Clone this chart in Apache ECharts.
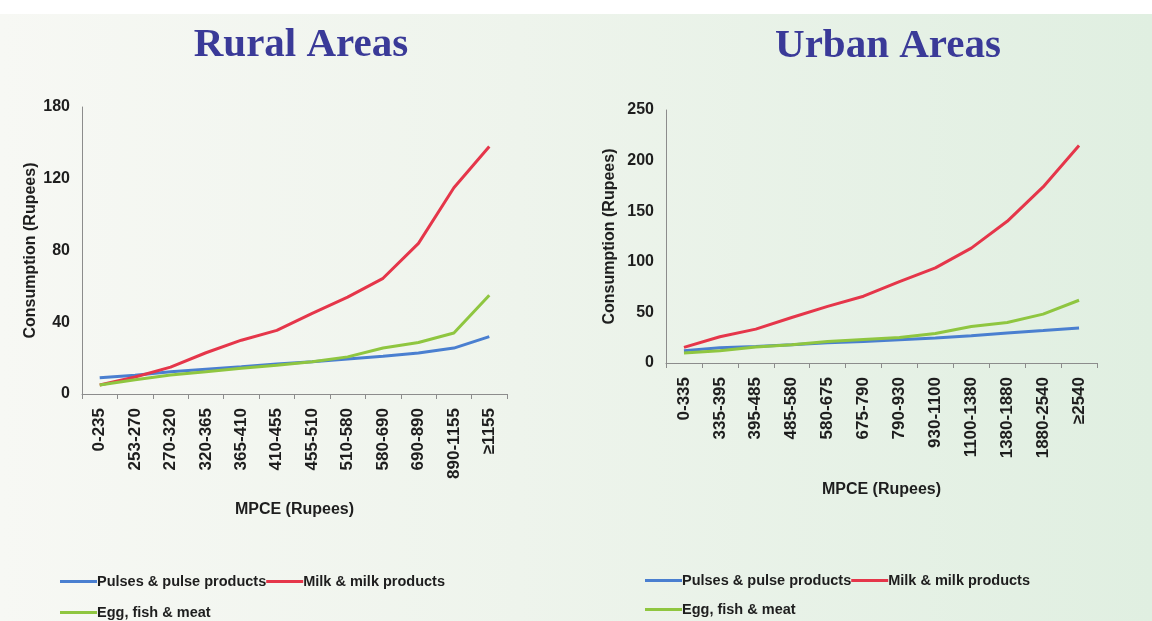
<!DOCTYPE html>
<html>
<head>
<meta charset="utf-8">
<script src="https://cdn.jsdelivr.net/npm/echarts@6/dist/echarts.min.js"></script>
<style>
  html, body { margin: 0; padding: 0; }
  .main-style {
    width: 1152px;
    height: 621px;
    position: relative;
    background: linear-gradient(to right, #f7f8f4 0%, #eef4ec 45%, #e0efe1 100%);
  }
  .top-strip {
    position: absolute; left: 0; top: 0; width: 100%; height: 14px; background: #ffffff;
  }
  #chart { position: absolute; left: 0; top: 0; width: 1152px; height: 621px; }
</style>
</head>
<body>
<div class="main-style">
  <div class="top-strip"></div>
  <div id="chart"></div>
</div>
<script>
// 农村 / 城市 MPCE 分组
var ruralCats = ['0-235', '253-270', '270-320', '320-365', '365-410', '410-455', '455-510', '510-580', '580-690', '690-890', '890-1155', '≥1155']
var urbanCats = ['0-335', '335-395', '395-485', '485-580', '580-675', '675-790', '790-930', '930-1100', '1100-1380', '1380-1880', '1880-2540', '≥2540']

// 农村数据
var ruralPulses = [9, 10.5, 12.4, 13.8, 15.2, 16.7, 18, 19.5, 21, 22.8, 25.6, 32]
var ruralMilk = [5, 9.5, 15, 23, 30, 35.5, 45, 54, 64.5, 84, 115, 138]
var ruralEgg = [5, 8, 10.6, 12.4, 14.3, 16, 18, 20.7, 25.6, 28.7, 34, 55]

// 城市数据
var urbanPulses = [12, 15, 16.4, 18, 20, 21.3, 23, 24.7, 27, 29.6, 32, 34.5]
var urbanMilk = [15.4, 26, 33.5, 45, 56, 66, 80.5, 94, 113.5, 140, 174, 215]
var urbanEgg = [10, 12, 15.8, 18, 21.3, 23.3, 25.3, 29.2, 36, 40, 48.3, 62]

// 纵轴刻度文字
var ruralTicks = ['0', '40', '80', '120', '180']

var names = ['Pulses & pulse products', 'Milk & milk products', 'Egg, fish & meat']
var colors = ['#4a7fd0', '#e5364a', '#8fc640']

var axisColor = '#8c8c8c'
var labelFont = { color: '#1e1e1e', fontFamily: 'Arial, Liberation Sans', fontWeight: 'bold' }

function catAxis(gridIndex, cats, nameGap) {
  return {
    type: 'category',
    gridIndex: gridIndex,
    data: cats,
    boundaryGap: true,
    name: 'MPCE (Rupees)',
    nameLocation: 'middle',
    nameGap: nameGap,
    nameTextStyle: Object.assign({ fontSize: 16 }, labelFont),
    axisLine: { lineStyle: { color: axisColor, width: 1 } },
    axisTick: { show: true, alignWithLabel: false, length: 5, lineStyle: { color: axisColor } },
    axisLabel: Object.assign({ rotate: 90, fontSize: 17, margin: 14, interval: 0 }, labelFont)
  }
}

function valAxis(gridIndex, max, interval, nameGap, formatter) {
  return {
    type: 'value',
    gridIndex: gridIndex,
    min: 0,
    max: max,
    interval: interval,
    name: 'Consumption (Rupees)',
    nameLocation: 'middle',
    nameGap: nameGap,
    nameRotate: 90,
    nameTextStyle: Object.assign({ fontSize: 16 }, labelFont),
    axisLine: { show: true, lineStyle: { color: axisColor, width: 1 } },
    axisTick: { show: false },
    splitLine: { show: false },
    axisLabel: Object.assign({ fontSize: 16, margin: 12, formatter: formatter }, labelFont)
  }
}

function line(idx, data, axisIndex) {
  return {
    name: names[idx],
    type: 'line',
    xAxisIndex: axisIndex,
    yAxisIndex: axisIndex,
    data: data,
    showSymbol: false,
    smooth: false,
    lineStyle: { width: 3, color: colors[idx] },
    itemStyle: { color: colors[idx] },
    z: 2 + idx
  }
}

function legend(left, top, items) {
  return {
    left: left,
    top: top,
    orient: 'horizontal',
    itemWidth: 37,
    itemHeight: 3,
    itemGap: 0,
    icon: 'rect',
    data: items,
    textStyle: { fontSize: 14.5, color: '#1e1e1e', fontFamily: 'Arial, Liberation Sans', fontWeight: 'bold', padding: [0, 0, 0, -5] }
  }
}

var titleStyle = { fontSize: 41, fontWeight: 'bold', fontFamily: 'Liberation Serif, Times New Roman, serif', color: '#3a3a98' }

var options = {
  animation: false,
  title: [
    { text: 'Rural Areas', left: 296, top: 20, textAlign: 'center', textStyle: titleStyle },
    { text: 'Urban Areas', left: 883, top: 21, textAlign: 'center', textStyle: titleStyle }
  ],
  grid: [
    { left: 82, right: 645, top: 107, bottom: 227 },
    { left: 666, right: 55, top: 110, bottom: 258 }
  ],
  xAxis: [
    catAxis(0, ruralCats, 108),
    catAxis(1, urbanCats, 119)
  ],
  yAxis: [
    valAxis(0, 160, 40, 43, function (v) { return ruralTicks[Math.round(v / 40)] }),
    valAxis(1, 250, 50, 48)
  ],
  legend: [
    legend(55, 569, [names[0], names[1]]),
    legend(55, 600, [names[2]]),
    legend(640, 568, [names[0], names[1]]),
    legend(640, 597, [names[2]])
  ],
  series: [
    line(0, ruralPulses, 0),
    line(1, ruralMilk, 0),
    line(2, ruralEgg, 0),
    line(0, urbanPulses, 1),
    line(1, urbanMilk, 1),
    line(2, urbanEgg, 1)
  ]
}

var chart = echarts.init(document.getElementById('chart'))
chart.setOption(options)
</script>
</body>
</html>
